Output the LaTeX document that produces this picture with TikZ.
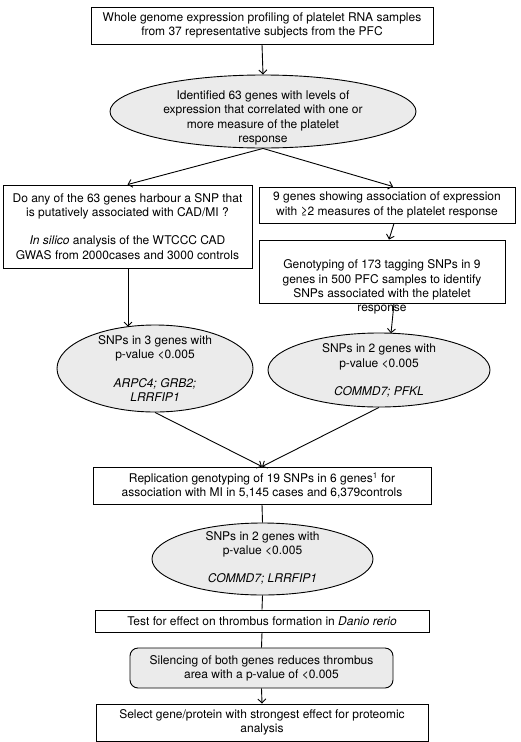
\documentclass[tikz,border=0pt]{standalone}
\usepackage{fontspec}
\setmainfont{TeX Gyre Heros}
\usetikzlibrary{arrows.meta,shapes.geometric}
\definecolor{shade}{HTML}{EBEBEB}
\tikzset{
  box/.style={draw, line width=0.9pt, inner sep=0pt, align=center, font=\fontsize{12}{14.2}\selectfont},
  oval/.style={draw, line width=0.9pt, ellipse, fill=shade, inner sep=0pt},
  txt/.style={inner sep=0pt, align=center, font=\fontsize{12}{14.2}\selectfont},
  conn/.style={line width=0.9pt},
  arr/.style={line width=0.9pt, -{Straight Barb[length=4pt,width=8pt]}},
}
\begin{document}
\begin{tikzpicture}[x=1pt,y=-1pt]
\useasboundingbox (0,0) rectangle (520,742);
% top box
\node[box, minimum width=342pt, minimum height=37pt] (b1) at (262,25.5)
  {Whole genome expression profiling of platelet RNA samples\\from 37 representative subjects from the PFC};
% ellipse 1
\node[oval, minimum width=306pt, minimum height=73pt] (e1) at (263,111.5) {};
\node[txt] (e1t) at (263,118)
  {Identified 63 genes with levels of\\expression that correlated with one or\\more measure of the platelet\\response};
% left box
\node[box, minimum width=249pt, minimum height=83pt] (lb) at (127.5,226.5)
  {Do any of the 63 genes harbour a SNP that\\is putatively associated with CAD/MI ?\\[14pt]\textit{In silico} analysis of the WTCCC CAD\\GWAS from 2000cases and 3000 controls};
% right box 1
\node[box, minimum width=256pt, minimum height=36pt] (rb1) at (387,205)
  {9 genes showing association of expression\\with ≥2 measures of the platelet response};
% right box 2
\node[box, minimum width=246pt, minimum height=63pt] (rb2) at (382,271.5) {};
\node[txt] (rb2t) at (382,287)
  {Genotyping of 173 tagging SNPs in 9\\genes in 500 PFC samples to identify\\SNPs associated with the platelet\\response};
% left ellipse
\node[oval, minimum width=196pt, minimum height=87pt] (le) at (155,368.5) {};
\node[txt] (let) at (155,368.5)
  {SNPs in 3 genes with\\p-value <0.005\\[14pt]\textit{ARPC4; GRB2;}\\\textit{LRRFIP1}};
% right ellipse
\node[oval, minimum width=222pt, minimum height=74pt] (re) at (379,370) {};
\node[txt] (ret) at (379,370.5)
  {SNPs in 2 genes with\\p-value <0.005\\[14pt]\textit{COMMD7; PFKL}};
% replication box
\node[box, minimum width=338pt, minimum height=37pt] (rep) at (262,485.5)
  {Replication genotyping of 19 SNPs in 6 genes\textsuperscript{1} for\\association with MI in 5,145 cases and 6,379controls};
% ellipse 3
\node[oval, minimum width=221pt, minimum height=72pt] (e3) at (262.5,559) {};
\node[txt] (e3t) at (262.5,558)
  {SNPs in 2 genes with\\p-value <0.005\\[14pt]\textit{COMMD7; LRRFIP1}};
% test box
\node[box, minimum width=334pt, minimum height=22pt] (tb) at (262,621)
  {Test for effect on thrombus formation in \textit{Danio rerio}};
% rounded box
\node[box, rounded corners=8pt, fill=shade, minimum width=263pt, minimum height=40pt] (sb) at (261.5,668)
  {Silencing of both genes reduces thrombus\\area with a p-value of <0.005};
% final box
\node[box, minimum width=332pt, minimum height=37pt] (fb) at (262,722.5)
  {Select gene/protein with strongest effect for proteomic\\analysis};
% connector anchor points
\coordinate (r1t) at ([xshift=6pt]rb1.north);
\coordinate (r1b) at ([xshift=7pt]rb1.south);
\coordinate (r2t) at ([xshift=7pt]rb2.north);
\coordinate (r2b) at ([xshift=12pt]rb2.south);
\coordinate (ret2) at (391,333.3);
\coordinate (lbb) at (128,268);
\coordinate (let2) at (128,326.7);
% connectors
\draw[arr] (b1.south) -- (e1.north);
\draw[arr] (e1.south) -- (lb.north);
\draw[arr] (e1.south) -- (r1t);
\draw[arr] (r1b) -- (r2t);
\draw[arr] (r2b) -- (ret2);
\draw[arr] (lbb) -- (let2);
\draw[arr] (le.south) -- (rep.north);
\draw[arr] (re.south) -- (rep.north);
\draw[conn] (rep.south) -- (e3.north);
\draw[conn] (e3.south) -- (tb.north);
\draw[conn] (tb.south) -- (sb.north);
\draw[arr] (sb.south) -- (fb.north);
\end{tikzpicture}
\end{document}
